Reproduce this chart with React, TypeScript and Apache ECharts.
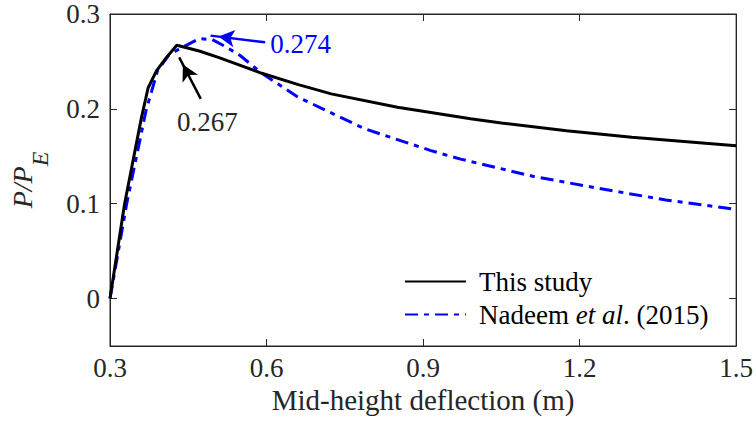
import React, { useEffect, useRef } from "react";
import * as echarts from "echarts";

const xTicks = [0.3, 0.6, 0.9, 1.2, 1.5];
const yTicks = [0, 0.1, 0.2, 0.3];

const thisStudy: [number, number][] = [
  [0.3, 0], [0.328, 0.1], [0.36, 0.19], [0.373, 0.222], [0.389, 0.24],
  [0.408, 0.254], [0.428, 0.267], [0.471, 0.261], [0.509, 0.254], [0.534, 0.249],
  [0.591, 0.2375], [0.661, 0.2255], [0.724, 0.2158], [0.851, 0.2017], [0.991, 0.1895],
  [1.05, 0.185], [1.175, 0.177], [1.3, 0.17], [1.5, 0.161],
];

const nadeem: [number, number][] = [
  [0.3, 0], [0.332, 0.1], [0.369, 0.198], [0.391, 0.24], [0.413, 0.257],
  [0.439, 0.265], [0.471, 0.274], [0.496, 0.273], [0.52, 0.266], [0.55, 0.256],
  [0.591, 0.2375], [0.661, 0.2122], [0.788, 0.179], [0.915, 0.156], [0.972, 0.147],
  [1.11, 0.129], [1.238, 0.116], [1.365, 0.104], [1.5, 0.094],
];

// arrows: [tail, tip]
const blackArrow: [number, number][] = [[0.474, 0.2105], [0.4326, 0.2543]];
const blueArrow: [number, number][] = [[0.5974, 0.2701], [0.4927, 0.2772]];
const blackLabel = { coord: [0.4865, 0.186], text: "0.267" };
const blueLabel = { coord: [0.607, 0.2684], text: "0.274" };

const FONT = "Liberation Serif";
const TXT = "#262626";
const BLUE = "#0000ff";

export default function App() {
  const ref = useRef<HTMLDivElement>(null);
  useEffect(() => {
    const chart = echarts.init(ref.current!, null, { renderer: "svg" });
    const mkLine = () => ({ show: true, onZero: false, lineStyle: { color: TXT, width: 1 } });
    const mkTick = () => ({ show: true, inside: true, length: 7, lineStyle: { color: TXT, width: 1 } });
    const labelItem = (l: { coord: number[]; text: string }, color: string, align: string) => ({
      coord: l.coord,
      symbol: "circle",
      symbolSize: 1,
      itemStyle: { color: "rgba(0,0,0,0)" },
      label: {
        show: true,
        position: "inside",
        align,
        color,
        fontFamily: FONT,
        fontSize: 27,
        formatter: l.text,
      },
    });
    const arrowLine = (arrow: [number, number][], color: string) => ({
      silent: true,
      symbol: ["none", "none"],
      lineStyle: { color, width: 2.5, type: "solid" },
      label: { show: false },
      data: [[{ coord: arrow[0] }, { coord: arrow[1] }]],
    });
    chart.setOption({
      animation: false,
      backgroundColor: "#fff",
      textStyle: { fontFamily: FONT },
      grid: {
        left: 107, right: 18, top: 14, bottom: 79,
        show: true, borderColor: TXT, borderWidth: 1, backgroundColor: "transparent",
      },
      legend: {
        orient: "vertical",
        left: 399,
        top: 263,
        itemWidth: 61,
        itemHeight: 14,
        itemGap: 6,
        selectedMode: false,
        itemStyle: { opacity: 0 },
        textStyle: {
          fontFamily: FONT,
          fontSize: 27,
          color: "#000",
          lineHeight: 27,
          padding: [0, 0, 0, 8],
          rich: {
            n: { fontFamily: FONT, fontSize: 27, color: "#000" },
            i: { fontFamily: FONT, fontSize: 27, color: "#000", fontStyle: "italic" },
          },
        },
        formatter: (name: string) =>
          name.startsWith("Nadeem") ? "{n|Nadeem }{i|et al}{n|. (2015)}" : name,
        data: [{ name: "This study" }, { name: "Nadeem et al. (2015)" }],
      },
      xAxis: [
        {
          type: "value",
          min: xTicks[0],
          max: xTicks[xTicks.length - 1],
          interval: 0.3,
          axisLine: mkLine(),
          splitLine: { show: false },
          axisTick: mkTick(),
          axisLabel: {
            color: TXT,
            fontFamily: FONT,
            fontSize: 27,
            margin: 8,
            formatter: (v: number) => v.toFixed(1),
          },
          name: "Mid-height deflection (m)",
          nameLocation: "middle",
          nameGap: 39,
          nameTextStyle: { color: TXT, fontFamily: FONT, fontSize: 29 },
        },
        {
          type: "value",
          position: "top",
          min: xTicks[0],
          max: xTicks[xTicks.length - 1],
          interval: 0.3,
          axisLine: mkLine(),
          splitLine: { show: false },
          axisTick: mkTick(),
          axisLabel: { show: false },
        },
      ],
      yAxis: [
        {
          type: "value",
          min: -0.05,
          max: 0.3,
          axisLine: mkLine(),
          splitLine: { show: false },
          axisTick: { ...mkTick(), customValues: yTicks },
          axisLabel: {
            color: TXT,
            fontFamily: FONT,
            fontSize: 27,
            margin: 10,
            customValues: yTicks,
            formatter: (v: number) => (Math.abs(v) < 1e-9 ? "0" : v.toFixed(1)),
          },
          name: "{p|P/P}{s|E}",
          nameLocation: "middle",
          nameGap: 58,
          nameRotate: 90,
          nameTextStyle: {
            rich: {
              p: { fontFamily: FONT, fontSize: 28, fontStyle: "italic", color: TXT, lineHeight: 30, verticalAlign: "top" },
              s: { fontFamily: FONT, fontSize: 24, fontStyle: "italic", color: TXT, lineHeight: 44, verticalAlign: "bottom" },
            },
          },
        },
        {
          type: "value",
          position: "right",
          min: -0.05,
          max: 0.3,
          axisLine: mkLine(),
          splitLine: { show: false },
          axisTick: { ...mkTick(), customValues: yTicks },
          axisLabel: { show: false, customValues: yTicks },
        },
      ],
      series: [
        {
          name: "box",
          type: "line",
          xAxisIndex: 1,
          yAxisIndex: 1,
          data: [],
          symbol: "none",
          silent: true,
        },
        {
          name: "This study",
          type: "line",
          data: thisStudy,
          showSymbol: false,
          symbol: "none",
          lineStyle: { color: "#000", width: 3 },
          itemStyle: { color: "#000" },
          z: 3,
          markLine: arrowLine(blackArrow, "#000"),
          markPoint: { silent: true, data: [labelItem(blackLabel, TXT, "center")] },
        },
        {
          name: "Nadeem et al. (2015)",
          type: "line",
          data: nadeem,
          showSymbol: false,
          symbol: "none",
          lineStyle: { color: BLUE, width: 3, type: [13, 6, 5, 6] },
          itemStyle: { color: BLUE },
          z: 2,
          markLine: arrowLine(blueArrow, BLUE),
          markPoint: { silent: true, data: [labelItem(blueLabel, BLUE, "left")] },
        },
      ],
    });

    const finder = { xAxisIndex: 0, yAxisIndex: 0 };
    const head = (arrow: [number, number][], color: string) => {
      const a = chart.convertToPixel(finder, arrow[0]) as number[];
      const b = chart.convertToPixel(finder, arrow[1]) as number[];
      const dx = b[0] - a[0];
      const dy = b[1] - a[1];
      const L = Math.hypot(dx, dy) || 1;
      const H = 16;
      const rot = (Math.atan2(-dx, -dy) * 180) / Math.PI;
      const c = [b[0] - (dx / L) * (H / 2), b[1] - (dy / L) * (H / 2)];
      const coord = chart.convertFromPixel(finder, c) as number[];
      return {
        coord,
        symbol: "arrow",
        symbolSize: [13, H],
        symbolRotate: rot,
        itemStyle: { color },
        label: { show: false },
      };
    };
    chart.setOption({
      series: [
        {},
        { markPoint: { silent: true, data: [labelItem(blackLabel, TXT, "center"), head(blackArrow, "#000")] } },
        { markPoint: { silent: true, data: [labelItem(blueLabel, BLUE, "left"), head(blueArrow, BLUE)] } },
      ],
    });
    return () => chart.dispose();
  }, []);
  return <div ref={ref} style={{ width: 756, height: 425, position: "absolute", left: 0, top: 0 }} />;
}
